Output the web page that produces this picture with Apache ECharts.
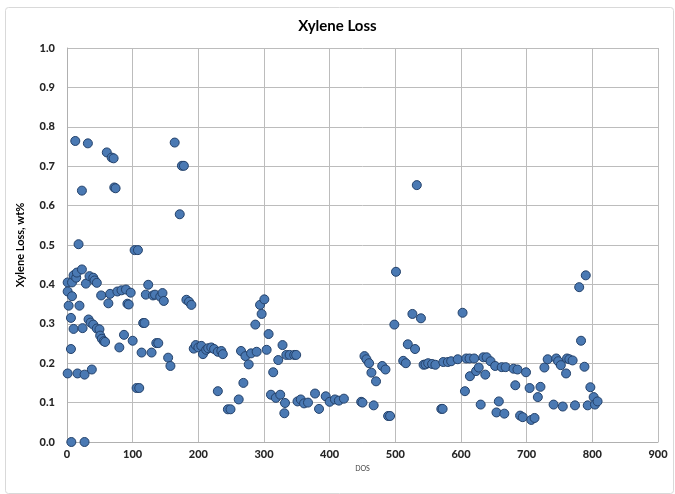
<!DOCTYPE html>
<html>
<head>
<meta charset="utf-8">
<script src="https://cdn.jsdelivr.net/npm/echarts@6/dist/echarts.min.js"></script>
<style>
html,body{margin:0;padding:0;background:#fff;}
#chart{width:675px;height:494px;}
</style>
</head>
<body>
<div id="chart"></div>
<script>
const chartTitle = "Xylene Loss";
const xAxisName = "DOS";
const yAxisName = "Xylene Loss, wt%";

const dos = [1,1,1,2.5,6,6,6.6,7.6,7.6,10,10,12.6,14,15,16,17.6,19,22.7,22.7,23.7,26.7,26.7,28.8,31.8,32.8,34.3,36,37.8,40,40,42,45.4,45.4,49.4,50.5,52,53,56,58,60.6,63,65.6,68,71,72,74,76.7,79.7,83,86.8,89.8,92,94,97,100,103,108,106,110,113.6,116,118,120,123.7,128.8,131,134,136,139,142,145.4,147.4,154,157.5,164,171.7,175,178,181.8,185.8,189.4,193,196,200,204.5,207,212,215,219.7,224,229.7,229.7,235,237.3,245,249,261.5,265,268.6,271.7,276.7,280.3,286.8,288.8,294,296.4,300.5,304,307,310.6,314,318,321.7,324.7,328.2,331,332,334,339,346,349,351,356,361,367,377.7,383.8,394,400,408,414,421.7,448,450,453,456,460,463.6,467,470.6,480,485,489,492,498.5,501,512,516,519,526,530,532.7,539,543,546,550,556,561,570,572,573,580,585,595,602.4,606,608,613,613.6,620,623,627,630,634,637,639,645,652,654,657.6,662,666,668,680,682.7,686,690,694,699,704.5,707,712,717,721,727,732,741,745,748,752,755,760,761.5,765,770,773.6,780,782.8,788,790,793,797,802,804,808];
const loss = [0.405,0.382,0.174,0.346,0.315,0.236,0,0.405,0.37,0.423,0.287,0.764,0.417,0.43,0.174,0.502,0.346,0.438,0.638,0.289,0.171,0,0.402,0.758,0.311,0.421,0.303,0.184,0.417,0.298,0.41,0.404,0.288,0.286,0.27,0.372,0.262,0.256,0.254,0.735,0.352,0.376,0.722,0.72,0.646,0.644,0.382,0.24,0.385,0.272,0.387,0.351,0.349,0.379,0.257,0.487,0.487,0.137,0.137,0.227,0.302,0.302,0.374,0.399,0.227,0.372,0.374,0.251,0.251,0.369,0.378,0.358,0.214,0.193,0.76,0.578,0.701,0.701,0.361,0.356,0.348,0.237,0.246,0.24,0.244,0.223,0.234,0.238,0.24,0.236,0.229,0.129,0.231,0.223,0.083,0.083,0.108,0.231,0.15,0.218,0.197,0.225,0.298,0.229,0.348,0.325,0.362,0.234,0.274,0.12,0.177,0.112,0.208,0.12,0.246,0.073,0.099,0.221,0.221,0.221,0.221,0.103,0.108,0.098,0.1,0.123,0.084,0.116,0.102,0.108,0.105,0.11,0.102,0.1,0.218,0.21,0.2,0.176,0.093,0.154,0.193,0.184,0.066,0.066,0.298,0.432,0.206,0.2,0.248,0.325,0.236,0.652,0.314,0.196,0.197,0.2,0.198,0.196,0.084,0.084,0.203,0.203,0.205,0.21,0.328,0.129,0.212,0.212,0.167,0.212,0.18,0.189,0.095,0.215,0.171,0.215,0.205,0.193,0.075,0.103,0.19,0.072,0.19,0.186,0.144,0.184,0.067,0.063,0.177,0.137,0.056,0.061,0.114,0.14,0.189,0.21,0.095,0.212,0.205,0.195,0.09,0.174,0.212,0.21,0.207,0.093,0.393,0.257,0.191,0.423,0.093,0.139,0.114,0.095,0.103];

const points = dos.map((d, i) => [d, loss[i]]);

const chart = echarts.init(document.getElementById('chart'));
const labelFont = 'Lato, "Open Sans", sans-serif';
chart.setOption({
  animation: false,
  backgroundColor: '#fff',
  graphic: [{
    type: 'rect', left: 3, top: 5, shape: {width: 668, height: 486, r: 3},
    style: {fill: 'none', stroke: '#d9d9d9', lineWidth: 1}, silent: true
  }],
  title: {
    text: chartTitle, left: 'center', top: 14,
    textStyle: {fontFamily: labelFont, fontSize: 15, fontWeight: 'bold', color: '#000'}
  },
  grid: {left: 67, right: 17, top: 48, bottom: 52},
  xAxis: {
    type: 'value', min: 0, max: 900, interval: 100,
    name: xAxisName, nameLocation: 'middle', nameGap: 19,
    nameTextStyle: {fontFamily: labelFont, fontSize: 7, color: '#404040'},
    axisLine: {show: true, lineStyle: {color: '#b0b0b0'}},
    axisTick: {show: false},
    axisLabel: {margin: 7, fontFamily: labelFont, fontSize: 11, fontWeight: 900, color: '#262626'},
    splitLine: {show: true, lineStyle: {color: '#bcbcbc', width: 1}}
  },
  yAxis: {
    type: 'value', min: 0, max: 1, interval: 0.1,
    name: yAxisName, nameLocation: 'middle', nameGap: 41,
    nameTextStyle: {fontFamily: labelFont, fontSize: 11, fontWeight: 'bold', color: '#000'},
    axisLine: {show: true, lineStyle: {color: '#b0b0b0'}},
    axisTick: {show: false},
    axisLabel: {margin: 12, fontFamily: labelFont, fontSize: 11, fontWeight: 900, color: '#262626',
      formatter: v => v.toFixed(1)},
    splitLine: {show: true, lineStyle: {color: '#bcbcbc', width: 1}}
  },
  series: [{
    type: 'scatter', data: points, symbol: 'circle', symbolSize: 9,
    itemStyle: {color: '#4a79b3', borderColor: '#24426b', borderWidth: 1, opacity: 1}
  }]
});
</script>
</body>
</html>
